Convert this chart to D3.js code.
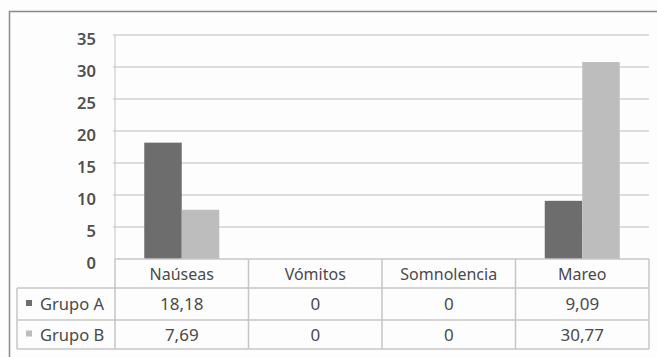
<!DOCTYPE html>
<html>
<head>
<meta charset="utf-8">
<script src="https://cdn.jsdelivr.net/npm/d3@7"></script>
<style>
  html, body { margin: 0; padding: 0; background: #fdfdfd; }
  svg { display: block; }
  text { font-family: "Noto Sans", "Open Sans", sans-serif; fill: #4a4a4a; }
</style>
</head>
<body>
<svg id="chart" width="657" height="357"></svg>
<script>
// Chart data
const categories = ["Naúseas", "Vómitos", "Somnolencia", "Mareo"];
const seriesNames = ["Grupo A", "Grupo B"];
const grupoA = [18.18, 0, 0, 9.09];
const grupoB = [7.69, 0, 0, 30.77];
const yTicks = [0, 5, 10, 15, 20, 25, 30, 35];
const seriesColors = ["#6d6d6d", "#bdbdbd"];

const seriesValues = [grupoA, grupoB];
const fmt = v => v === 0 ? "0" : d3.format(".2f")(v).replace(".", ",");

const svg = d3.select("#chart");

// Outer frame (extends past the right and bottom edges)
svg.append("path")
  .attr("d", "M9.5,360 L9.5,11.5 L660,11.5")
  .attr("fill", "none").attr("stroke", "#8a8a8a").attr("stroke-width", 1.5);

const plotLeft = 115, plotRight = 649, plotTop = 35, plotBottom = 259;
const tableLeft = 17;
const rowEdges = [259, 288, 320, 349];

const x = d3.scaleBand().domain(categories).range([plotLeft, plotRight]).paddingInner(0).paddingOuter(0);
const x1 = d3.scaleBand().domain(seriesNames).range([0, x.bandwidth()]).paddingInner(0).paddingOuter(0.78);
const y = d3.scaleLinear().domain([0, 35]).range([plotBottom, plotTop]);

// Gridlines
svg.append("g").selectAll("line").data(yTicks.filter(d => d > 0)).join("line")
  .attr("x1", plotLeft - 2).attr("x2", plotRight)
  .attr("y1", d => y(d)).attr("y2", d => y(d))
  .attr("stroke", "#d2d2d2").attr("stroke-width", 1.6);

// Y axis line and labels
svg.append("line")
  .attr("x1", plotLeft).attr("x2", plotLeft).attr("y1", plotTop).attr("y2", plotBottom)
  .attr("stroke", "#cfcfcf").attr("stroke-width", 1.2);

svg.append("g").selectAll("text").data(yTicks).join("text")
  .attr("x", 96).attr("y", d => y(d) + 10)
  .attr("text-anchor", "end")
  .style("font-size", "16.5px").style("font-weight", "600").style("fill", "#505050")
  .text(d => d);

// Bars
const groups = svg.append("g").selectAll("g").data(categories).join("g")
  .attr("transform", c => `translate(${x(c)},0)`);

groups.selectAll("rect")
  .data((c, i) => seriesNames.map((s, j) => ({ s, v: seriesValues[j][i], j })))
  .join("rect")
  .attr("x", d => x1(d.s))
  .attr("width", x1.bandwidth())
  .attr("y", d => y(d.v))
  .attr("height", d => y(0) - y(d.v))
  .attr("fill", d => seriesColors[d.j]);

// Data table below the plot
const tableStroke = "#c6c6c6";
const tbl = svg.append("g");

// Horizontal rules
tbl.append("line").attr("x1", plotLeft).attr("x2", plotRight)
  .attr("y1", rowEdges[0]).attr("y2", rowEdges[0]).attr("stroke", tableStroke).attr("stroke-width", 1.5);
rowEdges.slice(1).forEach(yy => {
  tbl.append("line").attr("x1", tableLeft).attr("x2", plotRight)
    .attr("y1", yy).attr("y2", yy).attr("stroke", tableStroke).attr("stroke-width", 1.5);
});

// Vertical rules
const colEdges = categories.map(c => x(c)).concat([plotRight]);
colEdges.forEach(xx => {
  tbl.append("line").attr("x1", xx).attr("x2", xx)
    .attr("y1", rowEdges[0]).attr("y2", rowEdges[3]).attr("stroke", tableStroke).attr("stroke-width", 1.5);
});
tbl.append("line").attr("x1", tableLeft).attr("x2", tableLeft)
  .attr("y1", rowEdges[1]).attr("y2", rowEdges[3]).attr("stroke", tableStroke).attr("stroke-width", 1.5);

// Category header
tbl.selectAll("text.cat").data(categories).join("text")
  .attr("class", "cat")
  .attr("x", c => x(c) + x.bandwidth() / 2)
  .attr("y", (rowEdges[0] + rowEdges[1]) / 2 + 6)
  .attr("text-anchor", "middle")
  .style("font-size", "16px")
  .text(c => c);

// Series rows
seriesNames.forEach((s, j) => {
  const cy = (rowEdges[j + 1] + rowEdges[j + 2]) / 2;
  tbl.append("rect")
    .attr("x", 26).attr("y", cy - 4).attr("width", 6).attr("height", 6)
    .attr("fill", seriesColors[j]);
  tbl.append("text")
    .attr("x", 40).attr("y", cy + 6)
    .style("font-size", "16.5px")
    .text(s);
  tbl.selectAll(`text.v${j}`).data(seriesValues[j]).join("text")
    .attr("class", `v${j}`)
    .attr("x", (v, i) => x(categories[i]) + x.bandwidth() / 2)
    .attr("y", cy + 6)
    .attr("text-anchor", "middle")
    .style("font-size", "17px")
    .text(v => fmt(v));
});
</script>
</body>
</html>
